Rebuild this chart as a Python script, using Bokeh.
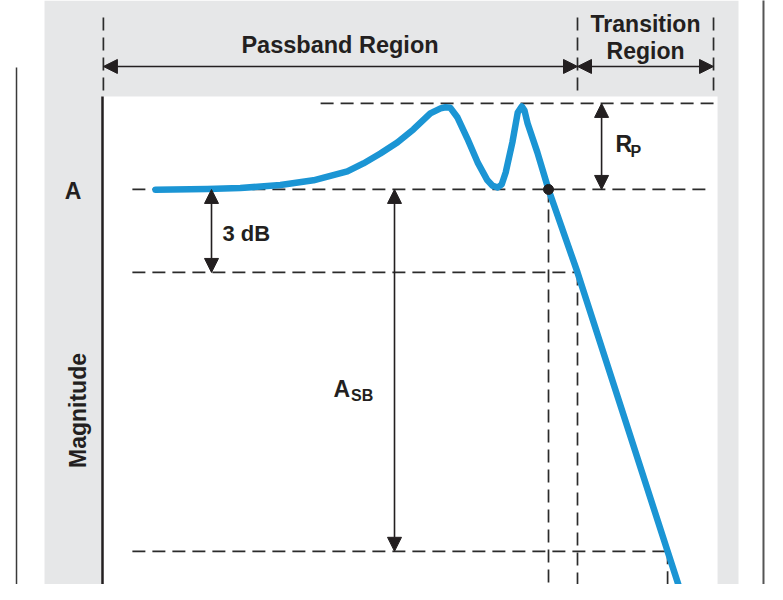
from bokeh.plotting import figure
from bokeh.models import Range1d, BoxAnnotation, Arrow, NormalHead
from bokeh.core.properties import value
from bokeh.embed import file_html
from bokeh.resources import INLINE
import math

# ---------------- data ----------------
# filter magnitude response: normalized frequency (corner = 100), magnitude in dB relative to A
freq = [11.9, 23.5, 30.9, 39.9, 47.3, 54.9, 58.5, 62.3, 66.1, 69.7, 73.5, 75.8, 76.9,
        78.0, 79.6, 81.8, 84.1, 86.3, 87.4, 88.6, 89.5, 90.4, 91.9, 93.1, 94.0, 94.6,
        95.3, 97.5, 100.0, 106.5, 126.7, 132.3]
mag_db = [-0.01, 0.02, 0.05, 0.16, 0.33, 0.65, 0.94, 1.30, 1.70, 2.17, 2.75, 2.93, 2.97,
          2.95, 2.60, 1.84, 0.98, 0.33, 0.14, 0.07, 0.18, 0.61, 1.70, 2.78, 3.00, 2.86,
          2.39, 1.34, 0.0, -3.0, -13.08, -15.87]

# band edges (normalized frequency)
f_start = 0.0
f_corner = 100.0
f_pass_end = 106.5
f_stop = 126.7
f_trans_end = 137.0

# levels (dB)
lvl_ripple = 3.11
lvl_A = 0.0
lvl_3db = -3.0
lvl_stop = -13.08

band_labels = ["Passband Region", "Transition", "Region"]
level_labels = ["A", "3 dB"]
axis_title = "Magnitude"

# ---------------- figure ----------------
X0, X1 = -22.87, 149.1
Y0, Y1 = -14.28, 6.83
p = figure(width=767, height=584, x_range=Range1d(X0, X1), y_range=Range1d(Y0, Y1),
           output_backend="svg", toolbar_location=None, min_border=0,
           x_axis_location=None, y_axis_location=None)
p.grid.visible = False
p.outline_line_color = None
p.background_fill_color = "white"
p.border_fill_color = "white"

INK = "#231f20"
GRAY_BG = "#e6e7e8"
BLUE = "#1b95d4"
FONT = value("Liberation Sans")
floor = Y0 - 1
ceil_ = Y1 + 1

# backgrounds
p.add_layout(BoxAnnotation(left=-13.0, right=142.6, fill_color=GRAY_BG, fill_alpha=1,
                           line_color=None, level="underlay"))
p.add_layout(BoxAnnotation(left=f_start, right=137.9, top=3.36, fill_color="white",
                           fill_alpha=1, line_color=None, level="underlay"))

# outer thin frame lines
p.segment(x0=[-19.28], y0=[4.41], x1=[-19.28], y1=[floor], line_color="#3a3a3a", line_width=1.5)
p.segment(x0=[148.2], y0=[ceil_], x1=[148.2], y1=[floor], line_color="#555555", line_width=2)

# dashed guide lines
dash = dict(line_color="#2b2b2b", line_width=1.7, line_dash="13 7")
hx0 = [48.9, 6.7, 6.7, 6.7]
hx1 = [f_trans_end, 136.3, f_pass_end, f_stop]
hy = [lvl_ripple, lvl_A, lvl_3db, lvl_stop]
p.segment(x0=hx0, y0=hy, x1=hx1, y1=hy, **dash)
vx = [f_corner, f_pass_end, f_stop]
vtop = [lvl_A, lvl_3db, lvl_stop]
p.segment(x0=vx, y0=vtop, x1=vx, y1=[floor] * 3, **dash)
hdr_x = [f_start + 0.2, f_pass_end, f_trans_end]
p.segment(x0=hdr_x, y0=[6.22] * 3, x1=hdr_x, y1=[3.36] * 3, **dash)

# magnitude axis line
p.segment(x0=[f_start], y0=[3.36], x1=[f_start], y1=[floor], line_color=INK, line_width=2.5)

# response curve
p.line(freq, mag_db, line_color=BLUE, line_width=6.5, line_join="round", line_cap="round")
p.scatter(x=[f_corner], y=[lvl_A], size=10, color=INK)

# dimension arrows
def dim_arrow(xs, ys, xe, ye):
    p.add_layout(Arrow(x_start=xs, y_start=ys, x_end=xe, y_end=ye,
                       start=NormalHead(size=14, fill_color=INK, line_color=INK, line_width=1),
                       end=NormalHead(size=14, fill_color=INK, line_color=INK, line_width=1),
                       line_color=INK, line_width=1.6))

hdr_arrow_y = 4.445
dim_arrow(f_start + 0.2, hdr_arrow_y, f_pass_end, hdr_arrow_y)
dim_arrow(f_pass_end, hdr_arrow_y, f_trans_end, hdr_arrow_y)
dim_arrow(24.44, lvl_A, 24.44, lvl_3db)
dim_arrow(65.47, lvl_A, 65.47, lvl_stop)
dim_arrow(111.9, lvl_ripple, 111.9, lvl_A)

# texts
def txt(x, y, s, size, align="left", angle=0.0):
    p.text(x=[x], y=[y], text=[s], text_font=FONT, text_font_style="bold",
           text_font_size=size, text_color=INK, text_align=align,
           text_baseline="alphabetic", angle=angle)

dy = 0.289  # baseline correction
txt((f_start + f_pass_end) / 2, 4.915 + dy, band_labels[0], "23.5px", "center")
txt((f_pass_end + f_trans_end) / 2, 5.685 + dy, band_labels[1], "23px", "center")
txt((f_pass_end + f_trans_end) / 2, 4.70 + dy, band_labels[2], "23px", "center")
txt(-6.61, -0.343 + dy, level_labels[0], "23px", "center")
txt(26.9, -1.88 + dy, level_labels[1], "22px")
txt(51.79, -7.52 + dy, "A", "23px")
txt(55.72, -7.73 + dy, "SB", "16px")
txt(115.0, 1.337 + dy, "R", "23px")
txt(118.4, 1.084 + dy, "P", "16px")
txt(-3.59 - 1.9, -7.99, axis_title, "23px", "center", angle=math.pi / 2)

open("out.html", "w").write(file_html(p, INLINE))
